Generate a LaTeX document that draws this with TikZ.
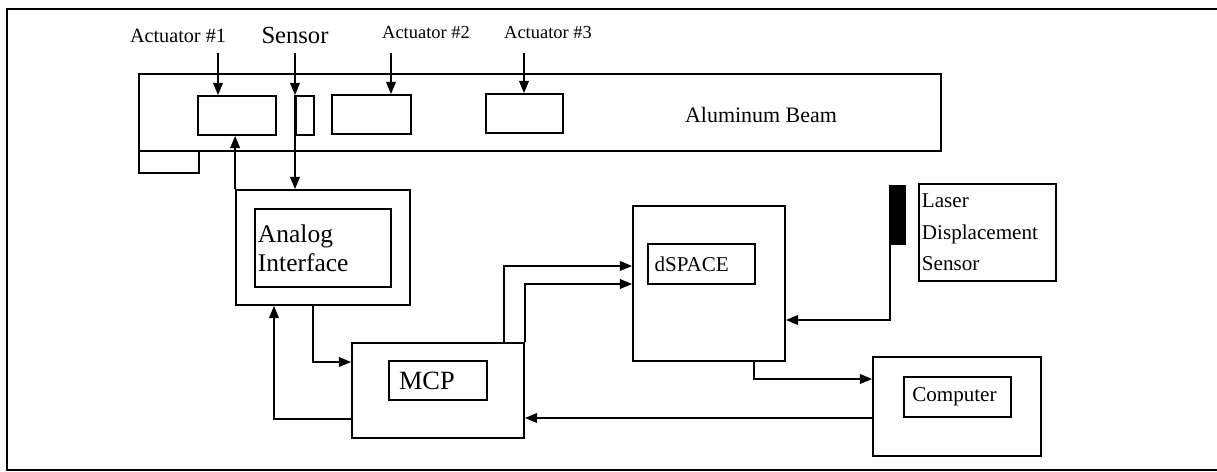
\documentclass[tikz,border=0pt]{standalone}
\usepackage{fontspec}
\setmainfont{Liberation Serif}
\usetikzlibrary{arrows.meta,fit}

\tikzset{
	box/.style = {draw, line width=1pt, inner sep=0pt},
	txt/.style = {inner sep=2pt, align=left},
	arr/.style = {line width=1pt, -{Triangle[length=7pt,width=5.5pt]}},
}

\begin{document}
\begin{tikzpicture}[x=0.02cm, y=-0.02cm]
	\useasboundingbox (0,0) rectangle (1217,472);
	\draw[line width=1.2pt] (1217,9) -- (7,9) -- (7,470) -- (1217,470);
	
	% beam with actuators and sensor
	\node[box, fit={(139,74) (941,151)}] (beam) {};
	\node[box, fit={(139,151) (199,173)}] (clamp) {};
	\node[box, fit={(198,96) (276,135)}] (act1) {};
	\node[box, fit={(296,96) (314,135)}] (sens) {};
	\node[box, fit={(332,95) (411,134)}] (act2) {};
	\node[box, fit={(486,94) (563,133)}] (act3) {};
	\node[font=\fontsize{12.5}{15}\selectfont] (beamlbl) at (761,115) {Aluminum Beam};
	
	\node[font=\fontsize{11.5}{14}\selectfont] (lact1) at (178,36) {Actuator \#1};
	\node[font=\fontsize{14}{17}\selectfont] (lsens) at (295,35) {Sensor};
	\node[font=\fontsize{10.5}{13}\selectfont] (lact2) at (426,32) {Actuator \#2};
	\node[font=\fontsize{10.5}{13}\selectfont] (lact3) at (548,32) {Actuator \#3};
	
	% electronics
	\node[box, fit={(236,190) (410,305)}] (ai) {};
	\node[box, fit={(255,209) (391,287)}] (aiin) {};
	\node[txt, anchor=west, font=\fontsize{14.5}{16.5}\selectfont] at (aiin.west) {Analog\\Interface};
	
	\node[box, fit={(352,343) (524,438)}] (mcp) {};
	\node[box, fit={(389,361) (487,400)}] (mcpin) {};
	\node[txt, anchor=west, font=\fontsize{15}{18}\selectfont] at ([xshift=4pt]mcpin.west) {MCP};
	
	\node[box, fit={(633,206) (785,361)}] (dsp) {};
	\node[box, fit={(648,244) (755,284)}] (dspin) {};
	\node[txt, anchor=west, font=\fontsize{12}{15}\selectfont] at ([xshift=2pt]dspin.west) {dSPACE};
	
	\node[draw, fill=black, inner sep=0pt, fit={(889,185) (905,244)}] (laser) {};
	\node[box, fit={(919,184) (1056,281)}] (lsr) {};
	\node[txt, anchor=west, font=\fontsize{12}{18}\selectfont] at (lsr.west) {Laser\\Displacement\\Sensor};
	
	\node[box, fit={(873,357) (1041,456)}] (comp) {};
	\node[box, fit={(904,377) (1011,417)}] (compin) {};
	\node[txt, anchor=west, font=\fontsize{12}{15}\selectfont] at ([xshift=3pt]compin.west) {Computer};
	
	% connections
	\coordinate (a1top) at (218,53);
	\coordinate (stop) at (295,53);
	\coordinate (a2top) at (391,53);
	\coordinate (a3top) at (524,53);
	\draw[arr] (a1top) -- (a1top |- act1.north);
	\draw[arr] (a2top) -- (a2top |- act2.north);
	\draw[arr] (a3top) -- (a3top |- act3.north);
	\draw[arr] (stop) -- (stop |- sens.north);
	\draw[arr] (stop |- sens.north) -- (stop |- ai.north);
	\draw[arr] (ai.north west) -- (ai.north west |- act1.south);
	
	\draw[arr] (313,0 |- ai.south) |- (mcp.west |- 0,362);
	\draw[arr] (mcp.west |- 0,419) -| (274,0 |- ai.south);
	\draw[arr] (504,0 |- mcp.north) |- (dsp.west |- 0,266);
	\draw[arr] (mcp.north east) |- (dsp.west |- 0,284);
	\draw[arr] (890,0 |- laser.south) |- (dsp.east |- 0,320);
	\draw[arr] (754,0 |- dsp.south) |- (comp.west |- 0,379);
	\draw[arr] (comp.west |- 0,418) -- (mcp.east |- 0,418);
\end{tikzpicture}
\end{document}
